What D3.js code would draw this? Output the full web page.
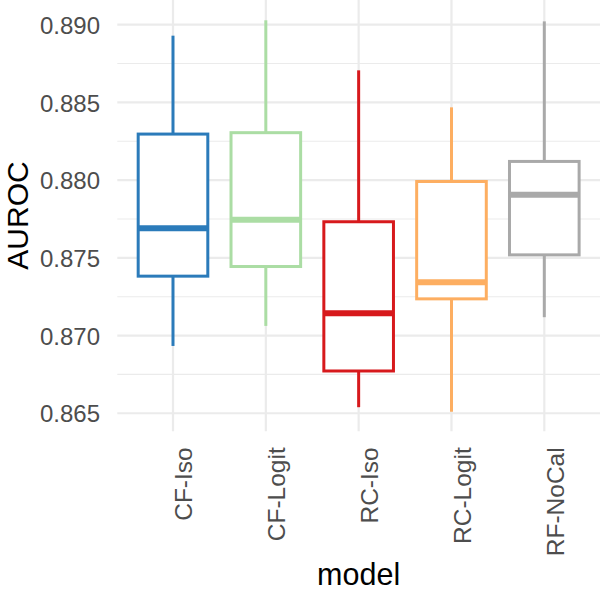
<!DOCTYPE html>
<html><head><meta charset="utf-8">
<script src="https://cdn.jsdelivr.net/npm/d3@7"></script>
<style>body{margin:0;background:#fff}svg{display:block}text{font-family:"Liberation Sans",Arial,sans-serif}</style>
</head><body>
<script>
const categories = ["CF-Iso","CF-Logit","RC-Iso","RC-Logit","RF-NoCal"];
const whiskerLow = [0.86933,0.87062,0.86539,0.86510,0.87118];
const q1         = [0.87382,0.87444,0.86772,0.87236,0.87519];
const medians    = [0.87691,0.87745,0.87144,0.87343,0.87906];
const q3         = [0.88296,0.88305,0.87732,0.87991,0.88120];
const whiskerHigh= [0.88929,0.89028,0.88706,0.88468,0.89021];
const colors     = ["#2B7BBA","#ABDDA4","#D7191C","#FDAE61","#A9A9A9"];
const yTicks     = [0.865,0.870,0.875,0.880,0.885,0.890];
const yMinor     = [0.8675,0.8725,0.8775,0.8825,0.8875];

const W=600,H=592;
const panel={left:117.3,right:600,top:0.7,bottom:431.3};
const svg=d3.select("body").append("svg").attr("width",W).attr("height",H);

const y=d3.scaleLinear().domain([0.86384,0.89154]).range([panel.bottom,panel.top]);
const x=d3.scalePoint().domain(categories).range([panel.left,panel.right]).padding(0.6);
const step=x.step();
const boxW=step*0.75;

const g=svg.append("g");
g.selectAll(".minor").data(yMinor).join("line")
 .attr("x1",panel.left).attr("x2",panel.right)
 .attr("y1",d=>y(d)).attr("y2",d=>y(d))
 .attr("stroke","#EBEBEB").attr("stroke-width",1.1);
g.selectAll(".major").data(yTicks).join("line")
 .attr("x1",panel.left).attr("x2",panel.right)
 .attr("y1",d=>y(d)).attr("y2",d=>y(d))
 .attr("stroke","#EBEBEB").attr("stroke-width",2.2);
g.selectAll(".vmajor").data(categories).join("line")
 .attr("x1",d=>x(d)).attr("x2",d=>x(d))
 .attr("y1",panel.top-1).attr("y2",panel.bottom)
 .attr("stroke","#EBEBEB").attr("stroke-width",2.2);

const data=categories.map((c,i)=>({c,lo:whiskerLow[i],q1:q1[i],med:medians[i],q3:q3[i],hi:whiskerHigh[i],col:colors[i]}));
const bx=svg.selectAll(".box").data(data).join("g");
bx.append("line").attr("x1",d=>x(d.c)).attr("x2",d=>x(d.c))
 .attr("y1",d=>y(d.hi)).attr("y2",d=>y(d.q3)).attr("stroke",d=>d.col).attr("stroke-width",3);
bx.append("line").attr("x1",d=>x(d.c)).attr("x2",d=>x(d.c))
 .attr("y1",d=>y(d.q1)).attr("y2",d=>y(d.lo)).attr("stroke",d=>d.col).attr("stroke-width",3);
bx.append("rect").attr("x",d=>x(d.c)-boxW/2).attr("width",boxW)
 .attr("y",d=>y(d.q3)).attr("height",d=>y(d.q1)-y(d.q3))
 .attr("fill","#fff").attr("stroke",d=>d.col).attr("stroke-width",3);
bx.append("line").attr("x1",d=>x(d.c)-boxW/2).attr("x2",d=>x(d.c)+boxW/2)
 .attr("y1",d=>y(d.med)).attr("y2",d=>y(d.med)).attr("stroke",d=>d.col).attr("stroke-width",6);

const yAxis=d3.axisLeft(y).tickValues(yTicks).tickFormat(d3.format(".3f")).tickSize(0).tickPadding(0);
const ya=svg.append("g").attr("transform",`translate(${100},0)`).call(yAxis);
ya.select(".domain").remove();
ya.selectAll("text").attr("font-size",24).attr("fill","#4D4D4D").attr("x",0).attr("dy","0.36em");

const xAxis=d3.axisBottom(x).tickSize(0);
const xa=svg.append("g").attr("transform",`translate(0,${panel.bottom})`).call(xAxis);
xa.select(".domain").remove();
xa.selectAll("text").attr("font-size",24.5).attr("fill","#4D4D4D")
 .attr("text-anchor","end").attr("dy",null).attr("y",0)
 .attr("transform","translate(19,16) rotate(-90)");

svg.append("text").attr("transform","translate(27.5,215.5) rotate(-90)")
 .attr("text-anchor","middle").attr("font-size",30).attr("fill","#000").text("AUROC");
svg.append("text").attr("x",(panel.left+panel.right)/2).attr("y",585)
 .attr("text-anchor","middle").attr("font-size",30.5).attr("fill","#000").text("model");
</script>
</body></html>
